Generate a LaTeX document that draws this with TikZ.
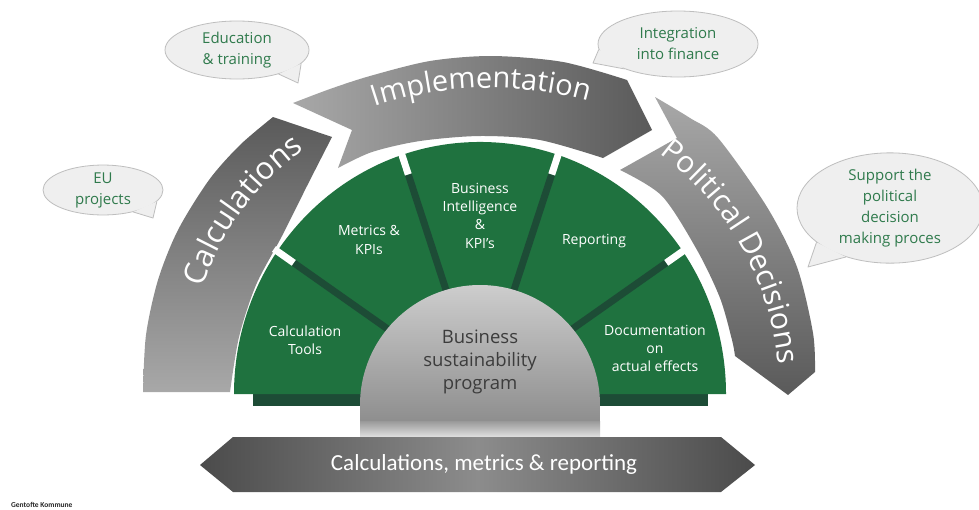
\documentclass[tikz,border=0pt]{standalone}
\usepackage{fontspec}
\setmainfont{Open Sans}
\newfontfamily\calibfont{Carlito}
\usetikzlibrary{shapes.geometric,decorations.text}

\definecolor{fangreen}{HTML}{1F723F}
\definecolor{fandark}{HTML}{1D4C36}
\definecolor{bubblefill}{HTML}{EFEFEF}
\definecolor{bubbleline}{HTML}{BEBEBE}
\definecolor{bubbletext}{HTML}{2F7A4C}
\definecolor{coretext}{HTML}{3C3C3C}
\definecolor{bandlight}{HTML}{A8A8A8}
\definecolor{banddark}{HTML}{5A5A5A}
\definecolor{dometop}{HTML}{CDCDCD}
\definecolor{domebot}{HTML}{8E8E8E}
\definecolor{bardark}{HTML}{4B4B4B}
\definecolor{barmid}{HTML}{8C8C8C}

% dark at both ends, lighter in the middle
\pgfdeclarehorizontalshading{barshade}{100bp}{color(0bp)=(bardark); color(25bp)=(bardark); color(50bp)=(barmid); color(75bp)=(bardark); color(100bp)=(bardark)}

\begin{document}
\begin{tikzpicture}[x=1pt,y=-1pt,
  segtext/.style={text=white, align=center, inner sep=0pt, font=\fontsize{14}{18.3}\selectfont},
  coretextstyle/.style={text=coretext, align=center, inner sep=0pt, font=\fontsize{18.5}{23}\selectfont},
  bubble/.style={ellipse, fill=bubblefill, draw=bubbleline, line width=0.8pt, inner sep=0pt,
    text=bubbletext, align=center, font=\fontsize{15}{21}\selectfont},
  tailfill/.style={fill=bubblefill},
  tailline/.style={draw=bubbleline, line width=0.8pt, line join=round},
  divider/.style={draw=fandark, line width=7pt},
  gapline/.style={draw=white, line width=7pt},
  bandlabel/.style={decorate, decoration={text along path, text align=center, text={#1}}},
]
\useasboundingbox (0,0) rectangle (979,509);
\fill[white] (0,0) rectangle (979,509);

% ---- outer curved arrows ----
% Calculations (left)
\shade[top color=banddark, bottom color=bandlight]
  plot[smooth] coordinates {(143,392) (146,335) (158,280) (178,230) (209,180) (240,145) (273,117)}
  -- plot[smooth] coordinates {(332,137) (308,184) (282,236) (256,285) (239,337) (230,392)}
  -- cycle;
% Implementation (top)
\shade[left color=bandlight, right color=banddark]
  (293,103) -- (352,130)
  -- plot[smooth] coordinates {(338,168) (372,152) (420,141) (480,136) (540,140) (603,158)}
  -- (652,130)
  -- plot[smooth] coordinates {(627,80) (563,62) (492,56) (430,61) (370,76) (330,89) (293,103)}
  -- cycle;
% Political Decisions (right)
\shade[top color=bandlight, bottom color=banddark]
  (655,97) -- (677,138)
  -- plot[smooth] coordinates {(620,170) (662,196) (697,250) (720,298) (732,340) (735,356)}
  -- (788,395)
  -- plot[smooth] coordinates {(815,372) (813,333) (797,267) (767,207) (718,138) (690,118) (655,97)}
  -- cycle;

% band captions following the curves
\path[bandlabel={|\fontsize{29}{30}\selectfont\color{white}|Implementation}]
  (299.8,141.4) arc[start angle=-121.4, end angle=-61.4, radius=365];
\path[bandlabel={|\fontsize{31}{32}\selectfont\color{white}|Calculations}]
  (189.8,344.5) arc[start angle=-173.5, end angle=-113.5, radius=278];
\path[bandlabel={|\fontsize{30}{32}\selectfont\color{white}|Political Decisions}]
  (632.7,135.8) arc[start angle=-59.4, end angle=0.6, radius=300];

% ---- green fan ----
\fill[fandark] (253,394) rectangle (708,406);
\begin{scope}[shift={(480,394)}, yscale=1.0245]
  \fill[fangreen] (-246,0) arc[start angle=-180, end angle=0, radius=246] -- cycle;
  \foreach \a in {34.5,71.5,108.5,145.5} {
    \draw[divider] (-\a:100) -- (-\a:226);
    \draw[gapline] (-\a:226) -- (-\a:250);
  }
\end{scope}

% ---- central dome ----
\shade[top color=dometop, bottom color=domebot]
  (360,422) -- (360,405) arc[start angle=-180, end angle=0, radius=120] -- (600,422) -- cycle;
\shade[top color=domebot!90!white, bottom color=dometop!70!white] (360,421) rectangle (600,436);

% ---- base bar ----
\shade[shading=barshade] (200,465) -- (233,437) -- (721,437) -- (755,465) -- (721,492) -- (233,492) -- cycle;
\node[text=white, inner sep=0pt, font=\calibfont\fontsize{23}{26}\selectfont] (barlabel) at (484,464)
  {Calculations, metrics \& reporting};

% ---- labels ----
\node[segtext] (tools) at (305,340) {Calculation\\Tools};
\node[segtext] (metrics) at (369,240) {Metrics \&\\KPIs};
\node[segtext] (bi) at (480,215.5) {Business\\Intelligence\\\&\\KPI’s};
\node[segtext] (reporting) at (594,241) {Reporting};
\node[segtext] (docs) at (655,348.5) {Documentation\\on\\actual effects};
\node[coretextstyle] (core) at (480,362) {Business\\sustainability\\program};

% ---- speech bubbles ----
\node[bubble, minimum width=120, minimum height=46] (eu) at (103,190) {EU\\projects};
\coordinate (eutip) at (153,218);
\fill[tailfill] (eu.-36) -- (eutip) -- (eu.-12) -- cycle;
\draw[tailline] (eu.-36) -- (eutip) -- (eu.-12);

\node[bubble, minimum width=144, minimum height=58] (edu) at (237,50) {Education\\\& training};
\coordinate (edutip) at (298,83);
\fill[tailfill] (edu.-30) -- (edutip) -- (edu.-12) -- cycle;
\draw[tailline] (edu.-30) -- (edutip) -- (edu.-12);

\node[bubble, minimum width=160, minimum height=66] (integ) at (678,44) {Integration\\into finance};
\coordinate (integtip) at (593,63);
\fill[tailfill] (integ.184) -- (integtip) -- (integ.205) -- cycle;
\draw[tailline] (integ.184) -- (integtip) -- (integ.205);

\node[bubble, minimum width=186, minimum height=110] (support) at (890,208)
  {Support the\\political\\decision\\making proces};
\coordinate (supporttip) at (808,267);
\fill[tailfill] (support.205) -- (supporttip) -- (support.228) -- cycle;
\draw[tailline] (support.205) -- (supporttip) -- (support.228);

% ---- footer ----
\node[anchor=west, inner sep=0pt, text=black!85, font=\calibfont\bfseries\fontsize{7.5}{9}\selectfont]
  (footer) at (11,505) {Gentofte Kommune};
\end{tikzpicture}
\end{document}
